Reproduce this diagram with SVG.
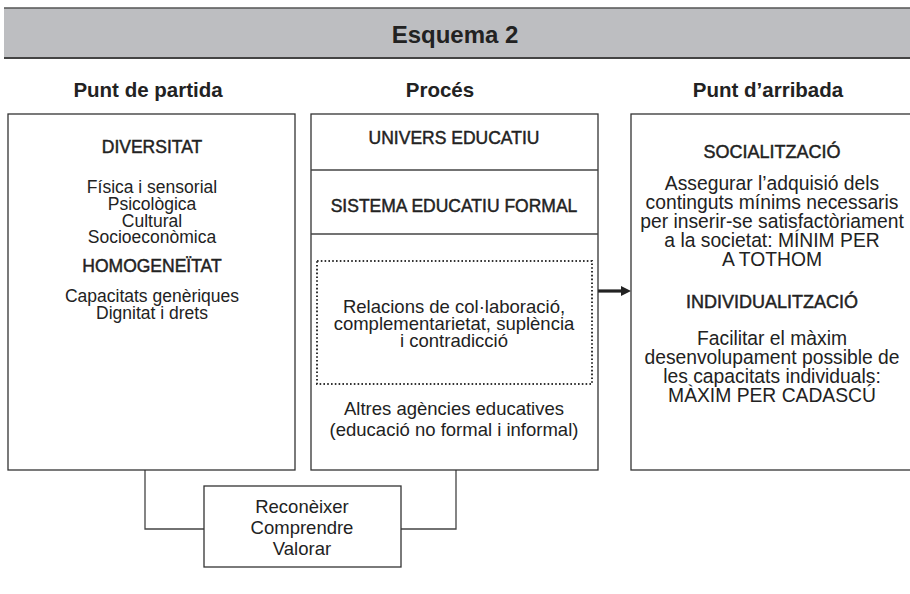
<svg xmlns="http://www.w3.org/2000/svg" width="910" height="594" viewBox="0 0 910 594">
<defs>
<style>
text{font-family:"Liberation Sans",Arial,sans-serif;fill:#222;text-anchor:middle}
.t{font-size:24px;font-weight:bold}
.h{font-size:20.5px;font-weight:bold}
.k{font-size:17.5px;stroke:#222;stroke-width:0.45}
.kr{font-size:18px;stroke:#222;stroke-width:0.45}
.bl{font-size:17.5px}
.b{font-size:18.5px}
.br{font-size:19.3px}
.box{fill:#fff;stroke:#333;stroke-width:1.3}
.ln{fill:none;stroke:#444;stroke-width:1.3}
</style>
</defs>
<rect width="910" height="594" fill="#fff"/>
<g id="header">
<rect x="4" y="8" width="906" height="50" fill="#bdbec1"/>
<line x1="4" y1="8" x2="910" y2="8" stroke="#555" stroke-width="1.3"/>
<line x1="4" y1="58" x2="910" y2="58" stroke="#444" stroke-width="2"/>
<text class="t" x="455" y="43">Esquema 2</text>
</g>
<g id="col-headers">
<text class="h" x="148" y="97">Punt de partida</text>
<text class="h" x="440" y="97">Procés</text>
<text class="h" x="768" y="97">Punt d’arribada</text>
</g>
<g id="connectors">
<polyline class="ln" points="145,470 145,529 204,529"/>
<polyline class="ln" points="401,529 456,529 456,470"/>
<line x1="598" y1="291" x2="623" y2="291" stroke="#222" stroke-width="3.2"/>
<polygon points="621,286 631,291 621,296" fill="#222"/>
</g>
<g id="punt-de-partida">
<rect class="box" x="8" y="114" width="287" height="356"/>
<text class="k" x="152" y="153">DIVERSITAT</text>
<text class="bl" x="152" y="193">Física i sensorial</text>
<text class="bl" x="152" y="210">Psicològica</text>
<text class="bl" x="152" y="226.5">Cultural</text>
<text class="bl" x="152" y="243">Socioeconòmica</text>
<text class="k" x="152" y="272">HOMOGENEÏTAT</text>
<text class="bl" x="152" y="302">Capacitats genèriques</text>
<text class="bl" x="152" y="319">Dignitat i drets</text>
</g>
<g id="proces">
<rect class="box" x="311" y="114" width="287" height="356"/>
<line class="ln" x1="311" y1="170" x2="598" y2="170"/>
<line class="ln" x1="311" y1="234" x2="598" y2="234"/>
<text class="k" x="454" y="144">UNIVERS EDUCATIU</text>
<text class="k" x="454" y="212">SISTEMA EDUCATIU FORMAL</text>
</g>
<g id="relacions">
<rect x="317" y="261" width="275" height="123" fill="none" stroke="#333" stroke-width="2" stroke-dasharray="1.6,2.2"/>
<text class="b" x="454" y="313">Relacions de col·laboració,</text>
<text class="b" x="454" y="330">complementarietat, suplència</text>
<text class="b" x="454" y="347">i contradicció</text>
</g>
<g id="altres-agencies">
<text class="b" x="454" y="415">Altres agències educatives</text>
<text class="b" x="454" y="436">(educació no formal i informal)</text>
</g>
<g id="punt-d-arribada">
<rect class="box" x="631" y="114" width="290" height="356"/>
<text class="kr" x="772" y="158">SOCIALITZACIÓ</text>
<text class="br" x="772" y="190">Assegurar l’adquisió dels</text>
<text class="br" x="772" y="209">continguts mínims necessaris</text>
<text class="br" x="772" y="228">per inserir-se satisfactòriament</text>
<text class="br" x="772" y="247">a la societat: MÍNIM PER</text>
<text class="br" x="772" y="266">A  TOTHOM</text>
<text class="kr" x="772" y="308">INDIVIDUALITZACIÓ</text>
<text class="br" x="772" y="345">Facilitar el màxim</text>
<text class="br" x="772" y="364">desenvolupament possible de</text>
<text class="br" x="772" y="383">les capacitats individuals:</text>
<text class="br" x="772" y="402">MÀXIM PER CADASCÚ</text>
</g>
<g id="reconeixer">
<rect class="box" x="204" y="486" width="197" height="81"/>
<text class="b" x="302" y="513">Reconèixer</text>
<text class="b" x="302" y="534">Comprendre</text>
<text class="b" x="302" y="555">Valorar</text>
</g>
</svg>
